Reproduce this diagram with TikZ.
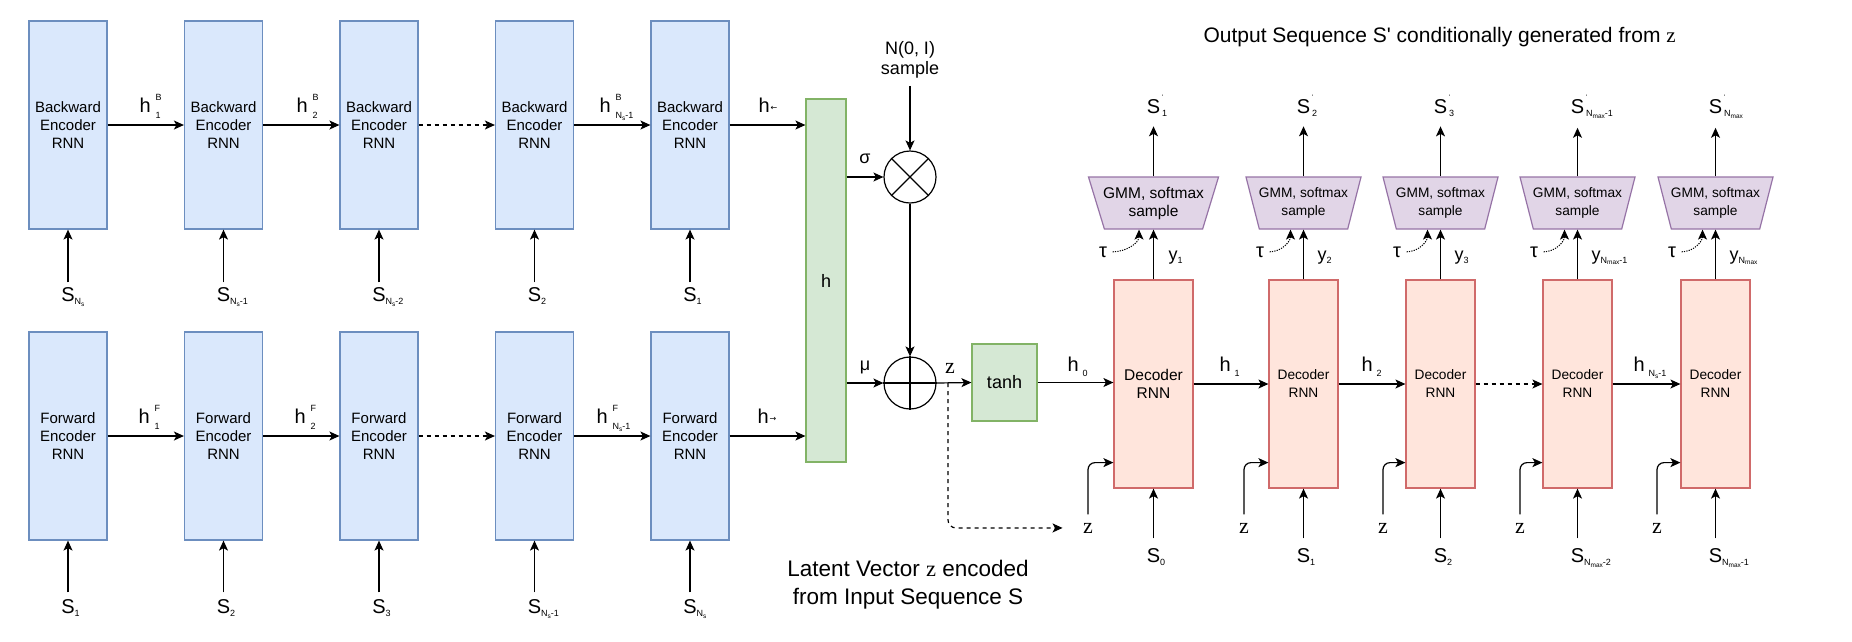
\documentclass[tikz,border=0pt]{standalone}
\usepackage{fontspec}
\setmainfont{Liberation Sans}
\newfontfamily\zfont{Liberation Serif}
\newfontfamily\arrfont{DejaVu Sans}
\usepackage{tikz}
\usetikzlibrary{shapes.geometric,arrows.meta}

\definecolor{encfill}{HTML}{DAE8FC}
\definecolor{encline}{HTML}{6C8EBF}
\definecolor{hfill}{HTML}{D5E8D4}
\definecolor{hline}{HTML}{82B366}
\definecolor{decfill}{HTML}{FFE5DC}
\definecolor{decline}{HTML}{D06A6A}
\definecolor{gmmfill}{HTML}{E1D5E7}
\definecolor{gmmline}{HTML}{9673A6}

\newcommand{\encf}{\fontsize{15}{18}\selectfont}
\newcommand{\decf}{\fontsize{13.7}{18}\selectfont}
\newcommand{\decbigf}{\fontsize{15.5}{18}\selectfont}
\newcommand{\labf}{\fontsize{20}{24}\selectfont}
\newcommand{\subf}{\fontsize{9}{9}\selectfont}
\newcommand{\subsubf}{\fontsize{6.5}{6.5}\selectfont}
\newcommand{\Ns}{N\raisebox{-0.35ex}{\subsubf s}}
\newcommand{\Nmax}{N\raisebox{-0.3ex}{\subsubf max}}
\newcommand{\lsub}[1]{\raisebox{-0.35ex}{\subf #1}}
\newcommand{\hsub}[1]{\hspace{4pt}\raisebox{-0.55ex}{\subf #1}}
\newcommand{\hstack}[2]{\hspace{5pt}\makebox[0pt][l]{\raisebox{1.1ex}{\subf #1}}\raisebox{-0.6ex}{\subf #2}}
\newcommand{\sprime}[1]{\makebox[0pt][l]{\raisebox{1.25ex}{\subsubf\textquotesingle}}\raisebox{-0.35ex}{\subf #1}}
\newcommand{\harr}[1]{\hspace{1pt}\raisebox{1.5pt}{\arrfont\fontsize{8}{8}\selectfont #1}}

\tikzset{
  >={Stealth[length=10pt,width=9pt,inset=2.5pt]},
  encbox/.style={draw=encline, fill=encfill, minimum width=78pt, minimum height=208pt, inner sep=0pt, align=center, font=\encf},
  decbox/.style={draw=decline, fill=decfill, minimum width=69pt, minimum height=208pt, inner sep=0pt, align=center, font=\decf},
  gmmbox/.style={trapezium, shape border rotate=180, trapezium stretches body, trapezium angle=66.6, draw=gmmline, fill=gmmfill, minimum width=115pt, minimum height=52pt, inner sep=0pt, align=center, font=\decf},
  greenbox/.style={draw=hline, fill=hfill, inner sep=0pt, font=\fontsize{18}{18}\selectfont},
  opcirc/.style={circle, draw, minimum size=52pt, inner sep=0pt},
  lab/.style={inner sep=0pt, font=\labf},
  greek/.style={lab, font=\fontsize{18}{18}\selectfont},
  zlab/.style={lab, font=\zfont\fontsize{22}{22}\selectfont},
  dashline/.style={dash pattern=on 4pt off 4pt},
  dotline/.style={dash pattern=on 1.2pt off 1.2pt, line width=1pt},
}

\begin{document}
\begin{tikzpicture}[x=1pt, y=-1pt, line width=1.2pt]
	\useasboundingbox (0,0) rectangle (1852,641);
	% Backward encoder
	\node[encbox] (eb1) at (68,125) {Backward\\Encoder\\RNN};
	\node[encbox] (eb2) at (223.5,125) {Backward\\Encoder\\RNN};
	\node[encbox] (eb3) at (379,125) {Backward\\Encoder\\RNN};
	\node[encbox] (eb4) at (534.5,125) {Backward\\Encoder\\RNN};
	\node[encbox] (eb5) at (690,125) {Backward\\Encoder\\RNN};
	% Forward encoder
	\node[encbox] (ef1) at (68,436) {Forward\\Encoder\\RNN};
	\node[encbox] (ef2) at (223.5,436) {Forward\\Encoder\\RNN};
	\node[encbox] (ef3) at (379,436) {Forward\\Encoder\\RNN};
	\node[encbox] (ef4) at (534.5,436) {Forward\\Encoder\\RNN};
	\node[encbox] (ef5) at (690,436) {Forward\\Encoder\\RNN};
	% inputs of the encoders
	\node[lab, anchor=base, inner sep=4pt] (sb1) at (68,301) {S\rlap{\lsub{\Ns}}};
	\node[lab, anchor=base, inner sep=4pt] (sb2) at (223.5,301) {S\rlap{\lsub{\Ns-1}}};
	\node[lab, anchor=base, inner sep=4pt] (sb3) at (379,301) {S\rlap{\lsub{\Ns-2}}};
	\node[lab, anchor=base, inner sep=4pt] (sb4) at (534.5,301) {S\rlap{\lsub{2}}};
	\node[lab, anchor=base, inner sep=4pt] (sb5) at (690,301) {S\rlap{\lsub{1}}};
	\node[lab, anchor=base, inner sep=6pt] (sf1) at (68,613) {S\rlap{\lsub{1}}};
	\node[lab, anchor=base, inner sep=6pt] (sf2) at (223.5,613) {S\rlap{\lsub{2}}};
	\node[lab, anchor=base, inner sep=6pt] (sf3) at (379,613) {S\rlap{\lsub{3}}};
	\node[lab, anchor=base, inner sep=6pt] (sf4) at (534.5,613) {S\rlap{\lsub{\Ns-1}}};
	\node[lab, anchor=base, inner sep=6pt] (sf5) at (690,613) {S\rlap{\lsub{\Ns}}};
	\draw[->] (sb1.north) -- (eb1.south);
	\draw[->] (sb2.north) -- (eb2.south);
	\draw[->] (sb3.north) -- (eb3.south);
	\draw[->] (sb4.north) -- (eb4.south);
	\draw[->] (sb5.north) -- (eb5.south);
	\draw[->] (sf1.north) -- (ef1.south);
	\draw[->] (sf2.north) -- (ef2.south);
	\draw[->] (sf3.north) -- (ef3.south);
	\draw[->] (sf4.north) -- (ef4.south);
	\draw[->] (sf5.north) -- (ef5.south);
	% hidden states of the encoders
	\node[greenbox, minimum width=40pt, minimum height=363pt] (hcat) at (826,280.5) {h};
	\draw[->] (eb1.east) -- (eb2.west);
	\draw[->] (eb2.east) -- (eb3.west);
	\draw[->, dashline] (eb3.east) -- (eb4.west);
	\draw[->] (eb4.east) -- (eb5.west);
	\draw[->] (eb5.east) -- (eb5.east -| hcat.west);
	\draw[->] (ef1.east) -- (ef2.west);
	\draw[->] (ef2.east) -- (ef3.west);
	\draw[->, dashline] (ef3.east) -- (ef4.west);
	\draw[->] (ef4.east) -- (ef5.west);
	\draw[->] (ef5.east) -- (ef5.east -| hcat.west);
	\node[lab, anchor=base west] (hb1) at (139,112) {h\hstack{B}{1}};
	\node[lab, anchor=base west] (hb2) at (296,112) {h\hstack{B}{2}};
	\node[lab, anchor=base west] (hb4) at (599,112) {h\hstack{B}{\Ns-1}};
	\node[lab, anchor=base west] (hbl) at (758,112) {h\harr{←}};
	\node[lab, anchor=base west] (hf1) at (138,423) {h\hstack{F}{1}};
	\node[lab, anchor=base west] (hf2) at (294,423) {h\hstack{F}{2}};
	\node[lab, anchor=base west] (hf4) at (596,423) {h\hstack{F}{\Ns-1}};
	\node[lab, anchor=base west] (hfr) at (757,423) {h\harr{→}};
	% sampling of z
	\node[lab, align=center, inner sep=7pt, font=\fontsize{18}{20}\selectfont] (noise) at (910,60) {N(0, I)\\sample};
	\node[opcirc] (otimes) at (910,177) {};
	\node[opcirc] (oplus) at (910,383) {};
	\draw (otimes.north west) -- (otimes.south east);
	\draw (otimes.north east) -- (otimes.south west);
	\draw (oplus.north) -- (oplus.south);
	\draw (oplus.west) -- (oplus.east);
	\draw[->] (hcat.east |- otimes.west) -- (otimes.west);
	\draw[->] (hcat.east |- oplus.west) -- (oplus.west);
	\draw[->] (noise.south) -- (otimes.north);
	\draw[->] (otimes.south) -- (oplus.north);
	\node[greek, anchor=base] (sigma) at (865,163) {σ};
	\node[greek, anchor=base] (mu) at (865,370) {μ};
	\node[zlab, anchor=base] (zout) at (950,373) {z};
	\node[greenbox, minimum width=65pt, minimum height=77pt] (tanh) at (1004.5,382.5) {tanh};
	\coordinate (zsplit) at (948,383);
	\draw[->] (oplus.east) -- (tanh.west);
	% Decoder
	\node[decbox, minimum width=79pt, font=\decbigf] (d1) at (1153.5,384) {Decoder\\RNN};
	\node[decbox] (d2) at (1303.5,384) {Decoder\\RNN};
	\node[decbox] (d3) at (1440.5,384) {Decoder\\RNN};
	\node[decbox] (d4) at (1577.5,384) {Decoder\\RNN};
	\node[decbox] (d5) at (1715.5,384) {Decoder\\RNN};
	\draw[->] (tanh.east) -- (tanh.east -| d1.west);
	\draw[->] (d1.east) -- (d2.west);
	\draw[->] (d2.east) -- (d3.west);
	\draw[->, dashline] (d3.east) -- (d4.west);
	\draw[->] (d4.east) -- (d5.west);
	\node[lab, anchor=base west] (h0) at (1067,371) {h\hsub{0}};
	\node[lab, anchor=base west] (h1) at (1219,371) {h\hsub{1}};
	\node[lab, anchor=base west] (h2) at (1361,371) {h\hsub{2}};
	\node[lab, anchor=base west] (h4) at (1633,371) {h\hsub{\Ns-1}};
	% inputs of the decoder
	\node[lab, anchor=base, inner sep=9pt] (ds1) at (1153.5,562) {S\rlap{\lsub{0}}};
	\node[lab, anchor=base, inner sep=9pt] (ds2) at (1303.5,562) {S\rlap{\lsub{1}}};
	\node[lab, anchor=base, inner sep=9pt] (ds3) at (1440.5,562) {S\rlap{\lsub{2}}};
	\node[lab, anchor=base, inner sep=9pt] (ds4) at (1577.5,562) {S\rlap{\lsub{\Nmax-2}}};
	\node[lab, anchor=base, inner sep=9pt] (ds5) at (1715.5,562) {S\rlap{\lsub{\Nmax-1}}};
	\draw[->] (ds1.north) -- (d1.south);
	\draw[->] (ds2.north) -- (d2.south);
	\draw[->] (ds3.north) -- (d3.south);
	\draw[->] (ds4.north) -- (d4.south);
	\draw[->] (ds5.north) -- (d5.south);
	\node[zlab, anchor=base, inner sep=8pt] (zi1) at (1088,533) {z};
	\node[zlab, anchor=base, inner sep=8pt] (zi2) at (1244,533) {z};
	\node[zlab, anchor=base, inner sep=8pt] (zi3) at (1383,533) {z};
	\node[zlab, anchor=base, inner sep=8pt] (zi4) at (1520,533) {z};
	\node[zlab, anchor=base, inner sep=8pt] (zi5) at (1657,533) {z};
	\draw[->, dashline, rounded corners=8pt, shorten >=12pt] (zsplit) |- (zi1.west);
	\draw[->, rounded corners=7pt] (zi1.north) |- ([yshift=26pt]d1.south west);
	\draw[->, rounded corners=7pt] (zi2.north) |- ([yshift=26pt]d2.south west);
	\draw[->, rounded corners=7pt] (zi3.north) |- ([yshift=26pt]d3.south west);
	\draw[->, rounded corners=7pt] (zi4.north) |- ([yshift=26pt]d4.south west);
	\draw[->, rounded corners=7pt] (zi5.north) |- ([yshift=26pt]d5.south west);
	% outputs of the decoder
	\node[gmmbox, minimum width=130pt, trapezium angle=63.9, font=\decbigf] (g1) at (1153.5,203) {\makebox[0pt]{GMM, softmax}\\\makebox[0pt]{sample}};
	\node[gmmbox] (g2) at (1303.5,203) {\makebox[0pt]{GMM, softmax}\\\makebox[0pt]{sample}};
	\node[gmmbox] (g3) at (1440.5,203) {\makebox[0pt]{GMM, softmax}\\\makebox[0pt]{sample}};
	\node[gmmbox] (g4) at (1577.5,203) {\makebox[0pt]{GMM, softmax}\\\makebox[0pt]{sample}};
	\node[gmmbox] (g5) at (1715.5,203) {\makebox[0pt]{GMM, softmax}\\\makebox[0pt]{sample}};
	\draw[->] (d1.north) -- (g1.south);
	\draw[->] (d2.north) -- (g2.south);
	\draw[->] (d3.north) -- (g3.south);
	\draw[->] (d4.north) -- (g4.south);
	\draw[->] (d5.north) -- (g5.south);
	\node[greek, anchor=base west] (y1) at (1168,260) {y\lsub{1}};
	\node[greek, anchor=base west] (y2) at (1317,260) {y\lsub{2}};
	\node[greek, anchor=base west] (y3) at (1454,260) {y\lsub{3}};
	\node[greek, anchor=base west] (y4) at (1591,260) {y\lsub{\Nmax-1}};
	\node[greek, anchor=base west] (y5) at (1729,260) {y\lsub{\Nmax}};
	\node[lab, anchor=base, inner sep=5pt] (tau1) at (1103,257) {τ};
	\node[lab, anchor=base, inner sep=5pt] (tau2) at (1260,257) {τ};
	\node[lab, anchor=base, inner sep=5pt] (tau3) at (1397,257) {τ};
	\node[lab, anchor=base, inner sep=5pt] (tau4) at (1534,257) {τ};
	\node[lab, anchor=base, inner sep=5pt] (tau5) at (1672,257) {τ};
	\draw[->, dotline] (tau1.east) to[out=0, in=-90] ([xshift=-14.5pt]g1.south);
	\draw[->, dotline] (tau2.east) to[out=0, in=-90] ([xshift=-13pt]g2.south);
	\draw[->, dotline] (tau3.east) to[out=0, in=-90] ([xshift=-13pt]g3.south);
	\draw[->, dotline] (tau4.east) to[out=0, in=-90] ([xshift=-13pt]g4.south);
	\draw[->, dotline] (tau5.east) to[out=0, in=-90] ([xshift=-13pt]g5.south);
	\node[lab, anchor=base, inner sep=9pt] (so1) at (1153.5,113) {S\rlap{\hspace{2pt}\sprime{1}}};
	\node[lab, anchor=base, inner sep=9pt] (so2) at (1303.5,113) {S\rlap{\hspace{2pt}\sprime{2}}};
	\node[lab, anchor=base, inner sep=9pt] (so3) at (1440.5,113) {S\rlap{\hspace{2pt}\sprime{3}}};
	\node[lab, anchor=base, inner sep=9pt] (so4) at (1577.5,113) {S\rlap{\hspace{2pt}\sprime{\Nmax-1}}};
	\node[lab, anchor=base, inner sep=9pt] (so5) at (1715.5,113) {S\rlap{\hspace{2pt}\sprime{\Nmax}}};
	\draw[->] (g1.north) -- (so1.south);
	\draw[->] (g2.north) -- (so2.south);
	\draw[->] (g3.north) -- (so3.south);
	\draw[->] (g4.north) -- (so4.south);
	\draw[->] (g5.north) -- (so5.south);
	% titles
	\node[lab, anchor=base west, font=\fontsize{21}{25}\selectfont] (outtitle) at (1203,42) {Output Sequence S\textquotesingle{} conditionally generated from {\zfont z}};
	\node[lab, align=center, font=\fontsize{22.5}{28}\selectfont] (lattitle) at (908,585) {Latent Vector {\zfont z} encoded\\from Input Sequence S};
\end{tikzpicture}
\end{document}
